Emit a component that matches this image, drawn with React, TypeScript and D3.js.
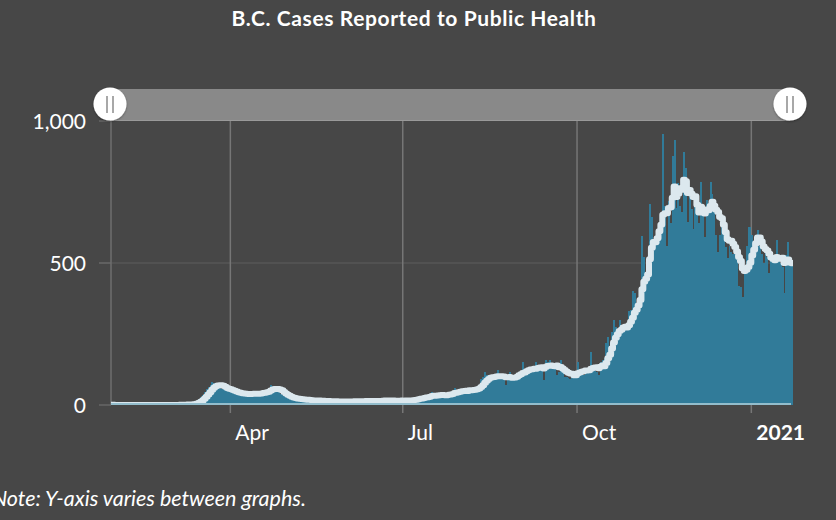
import React, { useEffect } from 'react';
import * as d3 from 'd3';

const W = 836;
const H = 520;

// Daily cases reported (first value = 2020-01-29)
const casesJan2020 = [1, 0, 0];
const casesFeb2020 = [0, 0, 0, 1, 0, 0, 0, 0, 0, 0, 0, 0, 0, 0, 0, 1, 0, 0, 0, 0, 0, 0, 0, 0, 0, 0, 0, 0, 1];
const casesMar2020 = [0, 0, 1, 1, 2, 1, 2, 1, 2, 3, 4, 5, 8, 12, 20, 28, 35, 45, 55, 62, 72, 80, 78, 70, 62, 64, 58, 60, 55, 52, 50];
const casesApr2020 = [48, 45, 42, 40, 38, 36, 40, 42, 38, 36, 40, 42, 38, 40, 42, 40, 44, 48, 48, 50, 56, 72, 66, 55, 50, 45, 40, 35, 30, 28];
const casesMay2020 = [26, 24, 22, 20, 22, 20, 18, 20, 18, 16, 17, 18, 16, 15, 14, 16, 15, 14, 13, 15, 14, 13, 12, 14, 12, 13, 12, 11, 12, 13, 12];
const casesJun2020 = [12, 14, 13, 12, 14, 15, 13, 12, 14, 15, 16, 14, 13, 12, 14, 16, 15, 14, 16, 18, 17, 15, 14, 16, 15, 14, 16, 17, 15, 16];
const casesJul2020 = [14, 16, 18, 15, 17, 20, 22, 24, 26, 28, 25, 27, 30, 32, 34, 45, 33, 30, 32, 35, 36, 38, 34, 36, 40, 42, 44, 59, 46, 48, 50];
const casesAug2020 = [48, 50, 52, 54, 59, 52, 55, 56, 60, 72, 90, 100, 117, 105, 95, 92, 88, 96, 112, 123, 100, 95, 90, 70, 95, 117, 105, 100, 102, 106, 110];
const casesSep2020 = [115, 151, 120, 125, 130, 122, 118, 128, 151, 135, 140, 138, 88, 158, 150, 158, 140, 132, 130, 106, 115, 158, 120, 100, 98, 95, 90, 110, 120, 118];
const casesOct2020 = [150, 120, 110, 105, 130, 118, 125, 185, 140, 120, 115, 105, 150, 160, 165, 218, 240, 200, 258, 300, 275, 250, 300, 270, 260, 275, 280, 330, 335, 400, 395];
const casesNov2020 = [330, 380, 420, 595, 520, 470, 500, 708, 663, 560, 590, 620, 640, 660, 954, 700, 560, 720, 640, 877, 933, 694, 780, 700, 680, 891, 834, 645, 768, 690];
const casesDec2020 = [620, 700, 680, 640, 786, 700, 593, 722, 680, 786, 743, 687, 600, 540, 600, 645, 628, 557, 517, 560, 540, 530, 560, 520, 420, 417, 380, 475, 560, 627, 627];
const casesJan2021 = [600, 560, 540, 616, 560, 530, 500, 540, 520, 465, 522, 519, 500, 581, 520, 500, 487, 394, 528, 574, 510, 500];

const yTickValues = [0, 500, 1000];
const xTickDates = [Date.UTC(2020, 3, 1), Date.UTC(2020, 6, 1), Date.UTC(2020, 9, 1), Date.UTC(2021, 0, 1)];
const xTickLabels = ['Apr', 'Jul', 'Oct', '2021'];
const titleText = 'B.C. Cases Reported to Public Health';
const noteText = 'Note: Y-axis varies between graphs.';

const startDate = new Date(Date.UTC(2020, 0, 29));
const endDate = new Date(Date.UTC(2021, 0, 23));

const BG = '#474747';
const BAR = '#317b99';
const LINE = '#dce8ee';
const FONT = 'Lato, "Open Sans", sans-serif';

export default function App() {
  useEffect(() => {
    document.body.style.margin = '0';
    document.body.style.background = BG;
  }, []);

  const daily = [
    ...casesJan2020, ...casesFeb2020, ...casesMar2020, ...casesApr2020, ...casesMay2020,
    ...casesJun2020, ...casesJul2020, ...casesAug2020, ...casesSep2020, ...casesOct2020,
    ...casesNov2020, ...casesDec2020, ...casesJan2021,
  ];
  const dates = daily.map((_, i) => d3.utcDay.offset(startDate, i));
  const avg = daily.map((_, i) => d3.mean(daily.slice(Math.max(0, i - 6), i + 1)) as number);

  const left = 111, right = 793, top = 121, bottom = 405;
  const x = d3.scaleUtc().domain([startDate, endDate]).range([left, right]);
  const y = d3.scaleLinear().domain([0, 1000]).range([bottom, top]);

  const line = d3.line<number>()
    .x((_, i) => (x(dates[i]) + x(d3.utcDay.offset(dates[i], 1))) / 2)
    .y((v) => y(v))
    .curve(d3.curveStep);

  return (
    <div style={{ position: 'absolute', left: 0, top: 0, width: W, height: H, background: BG }}>
      <svg width={W} height={H} style={{ display: 'block' }}>
        <defs>
          <clipPath id="plotClip">
            <rect x={left} y={top - 10} width={right - left} height={bottom - top + 10} />
          </clipPath>
          <filter id="hShadow" x="-50%" y="-50%" width="200%" height="200%">
            <feDropShadow dx="0" dy="1" stdDeviation="1.2" floodColor="#000" floodOpacity="0.35" />
          </filter>
        </defs>
        <rect x={0} y={0} width={W} height={H} fill={BG} />

        <text x={414} y={26} textAnchor="middle" fill="#ffffff" fontFamily={FONT} fontWeight={700} fontSize={21}
          letterSpacing={0.6}>
          {titleText}
        </text>

        {/* horizontal grid + y ticks */}
        {yTickValues.map((v) => (
          <g key={'yt' + v}>
            {v > 0 && v < 1000 && (
              <line x1={99} x2={right} y1={y(v)} y2={y(v)} stroke="#565656" strokeWidth={1.5} />
            )}
            <line x1={99} x2={left} y1={y(v)} y2={y(v)} stroke="#666" strokeWidth={1.5} />
            <text x={86} y={y(v) + 8} textAnchor="end" fill="#ffffff" fontFamily={FONT} fontSize={21}>
              {d3.format(',')(v)}
            </text>
          </g>
        ))}

        {/* vertical grid */}
        <line x1={left} x2={left} y1={top} y2={bottom} stroke="#6e6e6e" strokeWidth={1.5} />
        {xTickDates.map((t, i) => (
          <g key={'xt' + i}>
            <line x1={x(new Date(t))} x2={x(new Date(t))} y1={top} y2={bottom + 8} stroke="#767676" strokeWidth={1.5} />
            <text x={x(new Date(t)) + 5} y={440} fill="#ffffff" fontFamily={FONT} fontSize={21}
              fontWeight={xTickLabels[i] === '2021' ? 700 : 400}>
              {xTickLabels[i]}
            </text>
          </g>
        ))}

        <g clipPath="url(#plotClip)">
          {daily.map((v, i) => {
            const x0 = x(dates[i]);
            const x1 = x(d3.utcDay.offset(dates[i], 1));
            return (
              <rect key={'b' + i} x={x0} width={x1 - x0} y={y(v)} height={bottom - y(v)} fill={BAR}
                shapeRendering="crispEdges" />
            );
          })}
          <path d={line(avg) || ''} fill="none" stroke={LINE} strokeWidth={6} strokeLinejoin="round" strokeLinecap="round" />
        </g>

        <line x1={left} x2={791} y1={404} y2={404} stroke="#93bdcc" strokeWidth={2} />

        {/* range slider */}
        <rect x={110} y={89} width={680} height={32} fill="#898989" />
        <line x1={110} x2={790} y1={120.5} y2={120.5} stroke="#9a9a9a" strokeWidth={1} />
        {[110, 790].map((cx) => (
          <g key={'h' + cx}>
            <circle cx={cx} cy={104} r={16.5} fill="#ffffff" filter="url(#hShadow)" />
            <line x1={cx - 3} x2={cx - 3} y1={96} y2={113} stroke="#a8a8a8" strokeWidth={2} />
            <line x1={cx + 3} x2={cx + 3} y1={96} y2={113} stroke="#a8a8a8" strokeWidth={2} />
          </g>
        ))}

        <text x={306} y={506} textAnchor="end" fill="#ffffff" fontFamily={FONT} fontStyle="italic" fontSize={21.5}>
          {noteText}
        </text>
      </svg>
    </div>
  );
}
